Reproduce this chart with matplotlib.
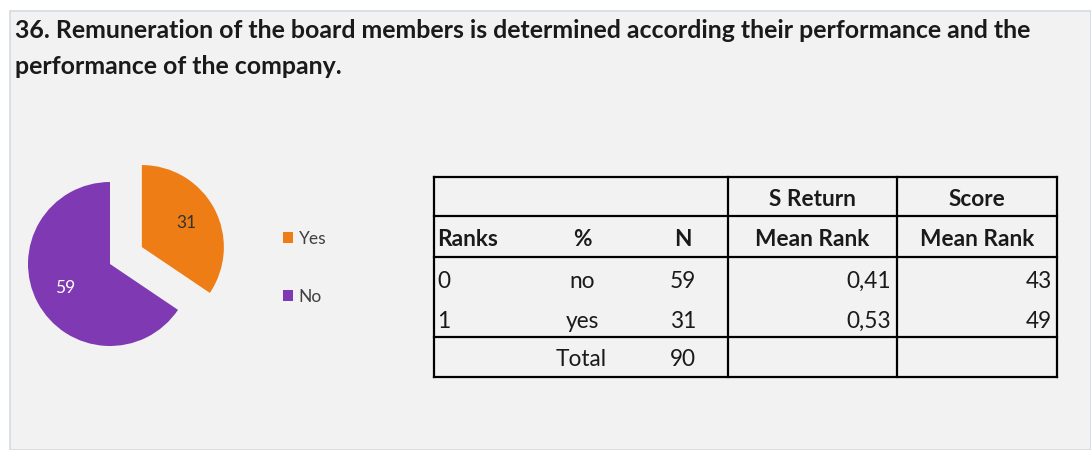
import matplotlib
matplotlib.use("Agg")
import matplotlib.pyplot as plt
from matplotlib.patches import Rectangle, Patch

# Survey answers for question 36
categories = ["Yes", "No"]
counts = [31, 59]
slice_colors = ["#EE7D15", "#7E39B3"]

# Rank table
ranks = ["0", "1"]
answer_labels = ["no", "yes"]
n_values = [59, 31]
s_return_mean_rank = [0.41, 0.53]
score_mean_rank = [43, 49]
total_n = 90

title_lines = ["36. Remuneration of the board members is determined according their performance and the",
               "performance of the company."]

W, H = 1091, 450
FONT = "Lato"
plt.rcParams["font.family"] = [FONT, "DejaVu Sans"]

fig = plt.figure(figsize=(W / 100, H / 100), dpi=100)
fig.patch.set_facecolor("white")

# Full-figure axes in pixel units for panel, title and table
base = fig.add_axes([0, 0, 1, 1])
base.set_xlim(0, W)
base.set_ylim(H, 0)
base.axis("off")

base.add_patch(Rectangle((10, 11), W - 10, H - 11, facecolor="#F2F2F2",
                         edgecolor="#D3DAE2", linewidth=1.2))

for line, yt in zip(title_lines, (31, 66)):
    base.text(15, yt, line, fontsize=17.9, fontweight="bold", color="#1A1A1A",
              va="center", ha="left")

# Table grid
x0, x1, x2, x3 = 434, 728, 897, 1057
y0, y1, y2, y3, y4 = 177, 216, 257, 337, 377
lw = 1.6
for y in (y0, y1, y2, y3, y4):
    base.plot([x0, x3], [y, y], color="black", lw=lw, solid_capstyle="projecting")
for x in (x0, x1, x2, x3):
    base.plot([x, x], [y0, y4], color="black", lw=lw, solid_capstyle="projecting")

tfs = 16.3
tc = "#1A1A1A"
hdr = dict(fontsize=tfs, fontweight="bold", color=tc, va="center")
body = dict(fontsize=tfs, color=tc, va="center")

base.text(812, 199, "S Return", ha="center", **hdr)
base.text(977, 199, "Score", ha="center", **hdr)
yh = 240
base.text(437, yh, "Ranks", ha="left", **hdr)
base.text(582, yh, "%", ha="center", **hdr)
base.text(683, yh, "N", ha="center", **hdr)
base.text(812, yh, "Mean Rank", ha="center", **hdr)
base.text(977, yh, "Mean Rank", ha="center", **hdr)

for i, yr in enumerate((281, 321)):
    base.text(437, yr, ranks[i], ha="left", **body)
    base.text(582, yr, answer_labels[i], ha="center", **body)
    base.text(683, yr, str(n_values[i]), ha="center", **body)
    base.text(891, yr, f"{s_return_mean_rank[i]:.2f}".replace(".", ","), ha="right", **body)
    base.text(1052, yr, str(score_mean_rank[i]), ha="right", **body)
base.text(581, 360, "Total", ha="center", **body)
base.text(683, 360, str(total_n), ha="center", **body)

# Pie chart: centre (110, 264) px, radius 82 px
cx, cy, r, half = 110, 264, 82, 140
pie_ax = fig.add_axes([(cx - half) / W, (H - cy - half) / H, 2 * half / W, 2 * half / H])

total = sum(counts)
wedges, _, autotexts = pie_ax.pie(
    counts, colors=slice_colors, startangle=90, counterclock=False,
    explode=[0.44, 0], radius=1,
    autopct=lambda p: f"{round(p * total / 100):d}", pctdistance=0.62,
    wedgeprops=dict(linewidth=0),
    textprops=dict(fontsize=12.5))
autotexts[0].set_color("#333333")
autotexts[1].set_color("white")
pie_ax.set_xlim(-half / r, half / r)
pie_ax.set_ylim(-half / r, half / r)
pie_ax.set_aspect("equal", adjustable="box")
pie_ax.axis("off")

# Legend
handles = [Patch(facecolor=c, edgecolor="none") for c in slice_colors]
leg = base.legend(handles, categories, loc="upper left",
                  bbox_to_anchor=(283 / W, 1 - 231 / H), bbox_transform=fig.transFigure,
                  frameon=False, fontsize=12.5, handlelength=0.6, handleheight=0.6,
                  handletextpad=0.3, labelspacing=2.4, borderaxespad=0, borderpad=0)
for t in leg.get_texts():
    t.set_color("#404040")

fig.savefig("out.png", dpi=100, facecolor=fig.get_facecolor())
